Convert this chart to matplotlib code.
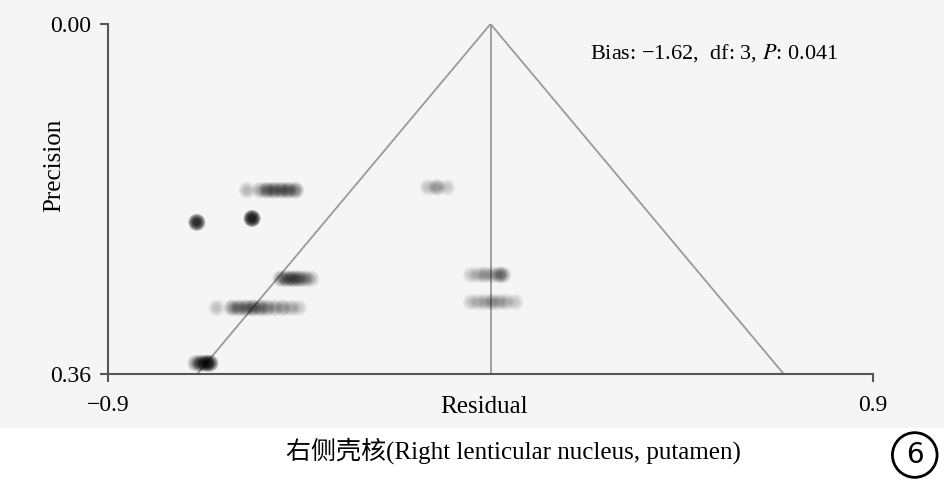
import numpy as np
import matplotlib.pyplot as plt
from matplotlib.patches import Rectangle

plt.rcParams['font.family'] = ['Liberation Serif', 'Noto Sans CJK SC']
plt.rcParams['mathtext.fontset'] = 'stix'

# residual (x) and precision (y) of each study point, with its darkness
res_x = [-0.573, -0.542, -0.525, -0.509, -0.492, -0.476, -0.459,
         -0.691, -0.561,
         -0.493, -0.479, -0.465, -0.451, -0.436, -0.422,
         -0.644, -0.608, -0.592, -0.575, -0.559, -0.542, -0.526, -0.507, -0.488, -0.469, -0.451,
         -0.693, -0.681, -0.669, -0.660,
         -0.147, -0.126, -0.102,
         -0.046, -0.029, -0.013, 0.004, 0.020, 0.029,
         -0.046, -0.029, -0.013, 0.004, 0.020, 0.036, 0.058]
prec_y = [0.171] * 7 + [0.204, 0.200] + [0.262] * 6 + [0.292] * 11 + [0.349] * 4 \
    + [0.168] * 3 + [0.258] * 6 + [0.286] * 7
shade = [0.15, 0.2, 0.35, 0.35, 0.35, 0.35, 0.3,
         0.8, 0.95,
         0.25, 0.35, 0.4, 0.35, 0.25, 0.15,
         0.12, 0.25, 0.3, 0.3, 0.35, 0.3, 0.25, 0.2, 0.2, 0.15, 0.1,
         0.3, 0.5, 0.6, 0.6,
         0.12, 0.22, 0.1,
         0.1, 0.12, 0.2, 0.15, 0.22, 0.22,
         0.1, 0.12, 0.15, 0.2, 0.15, 0.15, 0.1]

# funnel
funnel_x = [-0.69, 0.0, 0.69]
funnel_y = [0.36, 0.0, 0.36]

fig = plt.figure(figsize=(9.45, 4.82), dpi=100)
fig.patches.append(Rectangle((0, 0.112), 1, 0.888, transform=fig.transFigure,
                             facecolor='#f5f5f5', edgecolor='none', zorder=-10))
ax = fig.add_axes([0.1143, 0.2241, 0.8095, 0.7261])
ax.set_facecolor('none')

ax.plot(funnel_x, funnel_y, color='#9a9a9a', lw=1.3)
ax.plot([0, 0], [0, 0.36], color='#9a9a9a', lw=1.3)

# blurred dots: stacked soft layers, diameters in px
rgba = np.zeros((len(shade), 4))
rgba[:, 3] = np.clip(np.array(shade) * 0.3, 0, 1)
for d in [17, 15, 13, 11, 9, 7]:
    ax.scatter(res_x, prec_y, s=(d * 0.72) ** 2, c=rgba, edgecolors='none', zorder=3)

ax.set_xlim(-0.9, 0.9)
ax.set_ylim(0.36, 0.0)
ax.set_xticks([-0.9, 0.9])
ax.set_xticklabels(['\u22120.9', '0.9'])
ax.set_yticks([0.0, 0.36])
ax.set_yticklabels(['0.00', '0.36'])
ax.tick_params(labelsize=17, length=6, width=1.5, color='#555555', pad=6)
ax.tick_params(axis='x', pad=9)
for s in ['top', 'right']:
    ax.spines[s].set_visible(False)
for s in ['left', 'bottom']:
    ax.spines[s].set_color('#555555')
    ax.spines[s].set_linewidth(1.5)

ax.set_xlabel('Residual', fontsize=18)
ax.xaxis.set_label_coords(0.4915, -0.063)
ax.set_ylabel('Precision', fontsize=18)
ax.yaxis.set_label_coords(-0.056, 0.597)

ax.text(0.63, 0.917, 'Bias: \u22121.62,  df: 3, $P$: 0.041', transform=ax.transAxes,
        fontsize=16, ha='left', va='center')

fig.text(0.543, 0.066, '右侧壳核(Right lenticular nucleus, putamen)', fontsize=18,
         ha='center', va='center')
fig.text(0.968, 0.056, '6', fontsize=20, family='DejaVu Sans', ha='center', va='center',
         bbox=dict(boxstyle='circle,pad=0.3', fc='white', ec='black', lw=2))

fig.savefig('out.png', dpi=100)
